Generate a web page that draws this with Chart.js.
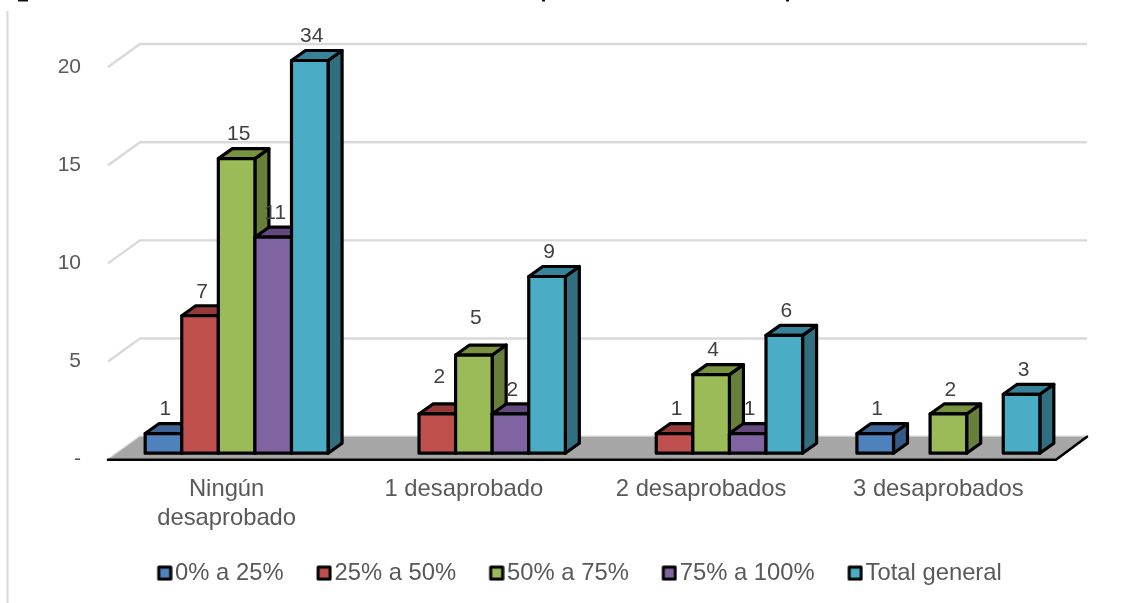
<!DOCTYPE html>
<html>
<head>
<meta charset="utf-8">
<style>html,body{margin:0;padding:0;background:#fff;overflow:hidden}canvas{position:absolute;left:0;top:0;display:block}</style>
<script src="https://cdn.jsdelivr.net/npm/chart.js@4/dist/chart.umd.min.js"></script>
</head>
<body>
<canvas id="c" width="1137" height="603" style="width:1137px;height:603px"></canvas>
<script>
const categories = [["Ningún","desaprobado"],"1 desaprobado","2 desaprobados","3 desaprobados"];
const seriesNames = ["0% a 25%","25% a 50%","50% a 75%","75% a 100%","Total general"];
const s0to25 = [1,null,null,1];
const s25to50 = [7,2,1,null];
const s50to75 = [15,5,4,2];
const s75to100 = [11,2,1,null];
const sTotal = [34,9,6,3];
const axisMax = 20;
const axisStep = 5;
const frontColors = ["#4F81BD","#C0504D","#9BBB59","#8064A2","#4BACC6"];
const topColors = ["#3D6596","#953A38","#78923F","#64497F","#38839A"];
const sideColors = ["#355A87","#7D302E","#677F3B","#533C6C","#316F80"];

const FONT = "'Liberation Sans', Arial, sans-serif";
const all = [s0to25,s25to50,s50to75,s75to100,sTotal];

function marker(color){
  const c=document.createElement('canvas');c.width=20;c.height=16;
  const x=c.getContext('2d');
  x.fillStyle=color;x.strokeStyle='#000';x.lineWidth=3;x.lineJoin='round';
  x.fillRect(6,2,12,12);x.strokeRect(6,2,12,12);
  return c;
}
const DX=14,DY=10;
function poly(ctx,pts,fill,stroke,lw){
  ctx.beginPath();pts.forEach((p,i)=>i?ctx.lineTo(p[0],p[1]):ctx.moveTo(p[0],p[1]));ctx.closePath();
  if(fill){ctx.fillStyle=fill;ctx.fill();}
  if(stroke){ctx.strokeStyle=stroke;ctx.lineWidth=lw;ctx.lineJoin='round';ctx.stroke();}
}
const scene={
  id:'scene',
  afterLayout(chart){
    chart.legend.top+=18.5;
    chart.legend.bottom=603;
    chart.scales.y.left=30;
    chart.scales.x.bottom=545;
  },
  beforeDatasetDraw(){return false;},
  beforeDatasetsDraw(chart){
    const ctx=chart.ctx,y=chart.scales.y,area=chart.chartArea;
    ctx.save();
    // page furniture
    ctx.strokeStyle='#D9D9D9';ctx.lineWidth=2;
    ctx.beginPath();ctx.moveTo(7.5,11);ctx.lineTo(7.5,603);ctx.stroke();
    ctx.fillStyle='#111';
    ctx.fillRect(18,0,10,1.5);ctx.fillRect(542,0,3,1.5);ctx.fillRect(786,0,3,1.5);
    // wall grid
    const fl=area.left-10, bl=area.left+22, br=area.right+20, up=16.5, dn=6.5;
    ctx.strokeStyle='#D9D9D9';ctx.lineWidth=2.4;
    y.ticks.forEach(t=>{
      const p=y.getPixelForValue(t.value);
      ctx.beginPath();ctx.moveTo(fl,p+dn);ctx.lineTo(bl,p-up);ctx.lineTo(br,p-up);ctx.stroke();
    });
    // floor
    const z=y.getPixelForValue(0);
    const fr=area.right-11;
    poly(ctx,[[fl,z+dn],[fr,z+dn],[br,z-up],[bl,z-up]],'#A6A6A6');
    ctx.strokeStyle='#000';ctx.lineWidth=2.6;ctx.lineCap='round';
    ctx.beginPath();ctx.moveTo(fl,z+dn);ctx.lineTo(fr,z+dn);ctx.lineTo(br,z-up);ctx.stroke();
    ctx.lineCap='butt';
    // bars, first series first so that later ones overlap
    chart.data.datasets.forEach((ds,i)=>{
      chart.getDatasetMeta(i).data.forEach((bar,j)=>{
        if(ds.data[j]==null) return;
        const p=bar.getProps(['x','y','base','width'],true);
        const l=p.x-p.width/2,r=p.x+p.width/2,t=Math.max(p.y,area.top),b=p.base;
        poly(ctx,[[r,t],[r+DX,t-DY],[r+DX,b-DY],[r,b]],sideColors[i],'#000',3.2);
        poly(ctx,[[l,t],[l+DX,t-DY],[r+DX,t-DY],[r,t]],topColors[i],'#000',3.2);
        poly(ctx,[[l,t],[r,t],[r,b],[l,b]],frontColors[i],'#000',3.2);
      });
    });
    // value labels
    ctx.fillStyle='#404040';ctx.font="21px "+FONT;ctx.textAlign='center';ctx.textBaseline='middle';
    chart.data.datasets.forEach((ds,i)=>{
      chart.getDatasetMeta(i).data.forEach((bar,j)=>{
        const v=ds.data[j];
        if(v==null) return;
        const p=bar.getProps(['x','y'],true);
        const t=Math.max(p.y,area.top);
        const raised=(i===2&&j===1)||(i===1&&j===1);
        ctx.fillText(String(v),p.x+2,t-(raised?37:24));
      });
    });
    ctx.restore();
  }
};
new Chart(document.getElementById('c'),{
  type:'bar',
  data:{labels:categories,datasets:seriesNames.map((n,i)=>({
    label:n,data:all[i],backgroundColor:frontColors[i],borderColor:'#000',borderWidth:3,
    pointStyle:marker(frontColors[i])
  }))},
  options:{
    responsive:false,animation:false,
    layout:{padding:{left:97,right:70,top:60.5,bottom:26.5}},
    datasets:{bar:{categoryPercentage:0.771,barPercentage:1}},
    plugins:{
      tooltip:{enabled:false},title:{display:false},
      legend:{position:'bottom',labels:{
        usePointStyle:true,pointStyleWidth:1,padding:38,color:'#595959',
        font:{family:FONT,size:23.8}
      }}
    },
    scales:{
      x:{grid:{display:false},border:{display:false},
        afterFit(s){s.height=51.5;},
        ticks:{autoSkip:false,maxRotation:0,minRotation:0,padding:13.5,labelOffset:-10,color:'#595959',
          font:{family:FONT,size:23.8,lineHeight:1.23}}},
      y:{min:0,max:axisMax,grid:{display:false},border:{display:false},
        afterFit(s){s.width=21;},
        ticks:{stepSize:axisStep,padding:29,labelOffset:6.5,color:'#595959',
          font:{family:FONT,size:21},
          callback:v=>v===0?'-':v}}
    }
  },
  plugins:[scene]
});
</script>
</body>
</html>
